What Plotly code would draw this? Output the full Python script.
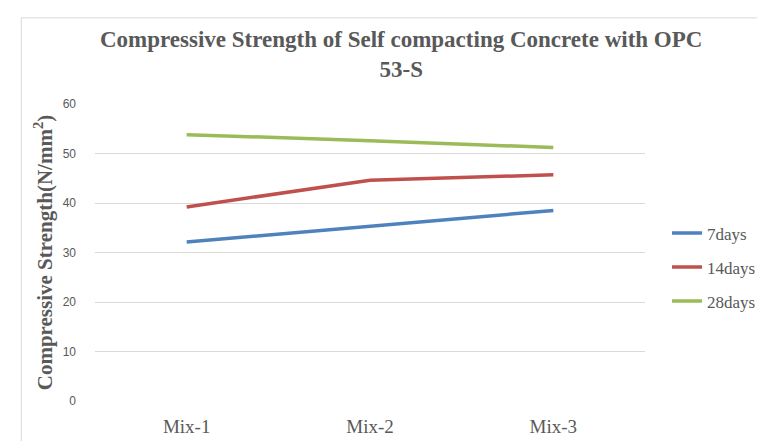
import plotly.graph_objects as go

categories = ["Mix-1", "Mix-2", "Mix-3"]
days7 = [32.1, 35.3, 38.5]
days14 = [39.2, 44.6, 45.7]
days28 = [53.8, 52.6, 51.2]
series_names = ["7days", "14days", "28days"]
colors = ["#4F81BD", "#C0504D", "#9BBB59"]

fig = go.Figure()
for name, vals, col in zip(series_names, [days7, days14, days28], colors):
    fig.add_trace(go.Scatter(x=categories, y=vals, mode="lines", name=name,
                             legendgroup=name,
                             line=dict(color=col, width=3.5)))

serif = "Liberation Serif, Times New Roman, serif"
fig.update_layout(
    width=765, height=441,
    paper_bgcolor="white", plot_bgcolor="white",
    margin=dict(l=87, r=119, t=96, b=48),
    title=dict(text="<b>Compressive Strength of Self compacting Concrete with OPC<br>53-S</b>",
               x=0.514, xanchor="center", y=0.912, yanchor="top",
               font=dict(family=serif, size=23, color="#595959")),
    xaxis=dict(range=[-0.5, 2.5], showgrid=False, zeroline=False, showline=False,
               ticks="", ticklabelstandoff=12,
               tickfont=dict(family=serif, size=19, color="#595959")),
    yaxis=dict(range=[0, 60], dtick=10, showgrid=True, gridcolor="#D9D9D9", gridwidth=1,
               zeroline=False, showline=False, ticks="",
               ticklabelstandoff=18,
               tickfont=dict(family="Liberation Sans, Arial, sans-serif", size=12, color="#595959"),
               title=dict(text="<b>Compressive Strength(N/mm<sup>2</sup>)</b>", standoff=4,
                          font=dict(family=serif, size=21, color="#595959"))),
    legend=dict(x=1.04, xanchor="left", y=0.45, yanchor="middle",
                font=dict(family=serif, size=17, color="#595959"),
                itemwidth=30, tracegroupgap=9, bgcolor="rgba(0,0,0,0)"),
    showlegend=True,
)
fig.add_shape(type="rect", xref="paper", yref="paper", x0=-0.134, y0=-1, x1=2, y1=1.29,
              line=dict(color="#D9D9D9", width=1), fillcolor="rgba(0,0,0,0)", layer="below")
fig.write_html("out.html")
